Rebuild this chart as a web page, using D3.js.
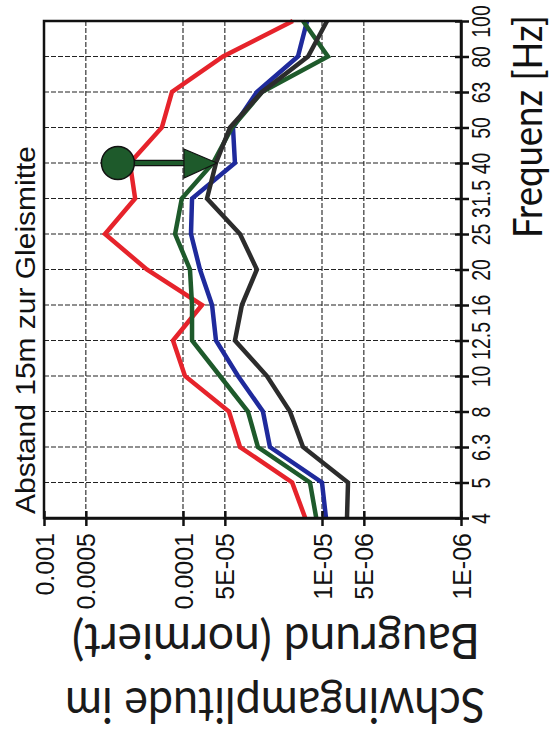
<!DOCTYPE html>
<html>
<head>
<meta charset="utf-8">
<script src="https://cdn.jsdelivr.net/npm/d3@7"></script>
<style>
  body { margin: 0; background: #fff; }
</style>
</head>
<body>
<div id="container"></div>
<script>
// third-octave bands, bottom to top
const freqs = ["4", "5", "6.3", "8", "10", "12.5", "16", "20", "25", "31.5", "40", "50", "63", "80", "100"]
const ampTicks = [1e-3, 5e-4, 1e-4, 5e-5, 1e-5, 5e-6, 1e-6]
const ampTickLabels = ["0.001", "0.0005", "0.0001", "5E-05", "1E-05", "5E-06", "1E-06"]

// normalised amplitudes per band
const redVals = [1.32e-5, 1.64e-5, 3.89e-5, 4.67e-5, 9.68e-5, 1.18e-4, 7.3e-5, 1.82e-4, 3.64e-4, 2.21e-4, 2.41e-4, 1.42e-4, 1.2e-4, 5.15e-5, 1.62e-5]
const greenVals = [1.1e-5, 1.22e-5, 2.89e-5, 3.41e-5, 5.42e-5, 8.61e-5, 8.61e-5, 8.91e-5, 1.14e-4, 1.02e-4, 6.08e-5, 4.44e-5, 2.7e-5, 9.06e-6, 1.37e-5]
const blueVals = [9.36e-6, 1.0e-5, 2.37e-5, 2.66e-5, 4.02e-5, 5.79e-5, 6.18e-5, 7.55e-5, 8.76e-5, 8.61e-5, 4.23e-5, 4.37e-5, 2.94e-5, 1.49e-5, 1.28e-5]
const blackVals = [6.61e-6, 6.5e-6, 1.37e-5, 1.7e-5, 2.49e-5, 4.23e-5, 3.77e-5, 2.94e-5, 3.89e-5, 6.72e-5, 5.79e-5, 4.59e-5, 2.7e-5, 1.26e-5, 9.2e-6]

// arrow marker at 40 Hz
const arrowBand = "40"
const arrowFrom = 2.94e-4
const arrowTo = 5.7e-5

const series = [
  { name: "red", color: "#e6232b", values: redVals },
  { name: "blue", color: "#1f2a9c", values: blueVals },
  { name: "green", color: "#1e5a2b", values: greenVals },
  { name: "black", color: "#2c2c2c", values: blackVals }
]

const W = 556, H = 738
const pLeft = 44, pRight = 461, pTop = 21, pBottom = 518

const svg = d3.select('#container').append('svg')
  .attr('width', W)
  .attr('height', H)
  .style('background', '#fff')

const x = d3.scaleLog().domain([1e-3, 1e-6]).range([pLeft, pRight])
const y = d3.scalePoint().domain(freqs).range([pBottom, pTop])

// grid
svg.append('g').selectAll('line')
  .data(ampTicks.slice(1, -1))
  .enter().append('line')
  .attr('x1', d => x(d)).attr('x2', d => x(d))
  .attr('y1', pTop).attr('y2', pBottom)
  .attr('stroke', '#222').attr('stroke-width', 1.1)
  .attr('stroke-dasharray', '5,2')

svg.append('g').selectAll('line')
  .data(freqs.slice(1, -1))
  .enter().append('line')
  .attr('x1', pLeft).attr('x2', pRight)
  .attr('y1', d => y(d)).attr('y2', d => y(d))
  .attr('stroke', '#222').attr('stroke-width', 1.1)
  .attr('stroke-dasharray', '5,2')

// lines
const line = d3.line()
  .x(d => x(d.v))
  .y(d => y(d.f))

series.forEach(s => {
  svg.append('path')
    .datum(s.values.map((v, i) => ({ f: freqs[i], v: v })))
    .attr('d', line)
    .attr('fill', 'none')
    .attr('stroke', s.color)
    .attr('stroke-width', 4.5)
    .attr('stroke-linejoin', 'miter')
})

// arrow
const ay = y(arrowBand)
const ax0 = x(arrowFrom)
const ax1 = x(arrowTo)
svg.append('line')
  .attr('x1', ax0).attr('x2', ax1 - 30)
  .attr('y1', ay).attr('y2', ay)
  .attr('stroke', '#111').attr('stroke-width', 6.5)
svg.append('line')
  .attr('x1', ax0).attr('x2', ax1 - 30)
  .attr('y1', ay).attr('y2', ay)
  .attr('stroke', '#1e5a2b').attr('stroke-width', 4)
svg.append('path')
  .attr('d', `M${ax1 - 33},${ay - 14} L${ax1},${ay} L${ax1 - 33},${ay + 15} Z`)
  .attr('fill', '#1e5a2b').attr('stroke', '#111').attr('stroke-width', 1.2)
svg.append('circle')
  .attr('cx', ax0).attr('cy', ay).attr('r', 16.5)
  .attr('fill', '#1e5a2b').attr('stroke', '#111').attr('stroke-width', 1.5)

// frame
svg.append('rect')
  .attr('x', pLeft).attr('y', pTop)
  .attr('width', pRight - pLeft).attr('height', pBottom - pTop)
  .attr('fill', 'none').attr('stroke', '#111').attr('stroke-width', 2.5)

// amplitude axis
const xAxis = svg.append('g')
  .attr('transform', `translate(0,${pBottom})`)
  .call(d3.axisBottom(x).tickValues(ampTicks).tickFormat((d, i) => ampTickLabels[i]).tickSizeOuter(0))
xAxis.select('.domain').attr('stroke', '#111').attr('stroke-width', 2.5)
xAxis.selectAll('.tick line').attr('y1', -7).attr('y2', 8).attr('stroke', '#111').attr('stroke-width', 2.5)
xAxis.selectAll('.tick text')
  .attr('x', 0).attr('y', 0).attr('dy', '0.36em')
  .attr('transform', 'translate(0,15) rotate(-90)')
  .attr('text-anchor', 'end')
  .attr('fill', '#111')
  .style('font-family', '"Liberation Sans", Arial, sans-serif')
  .style('font-size', '25px')

// frequency axis
const yAxis = svg.append('g')
  .attr('transform', `translate(${pRight},0)`)
  .call(d3.axisRight(y).tickSizeOuter(0))
yAxis.select('.domain').attr('stroke', '#111').attr('stroke-width', 2.5)
yAxis.selectAll('.tick line').attr('x1', -6).attr('x2', 8).attr('stroke', '#111').attr('stroke-width', 2.5)
yAxis.selectAll('.tick text')
  .attr('x', 0).attr('y', 0).attr('dy', '0.36em')
  .attr('transform', 'translate(20,0) rotate(-90) scale(0.78,1)')
  .attr('text-anchor', 'middle')
  .attr('fill', '#111')
  .style('font-family', '"Liberation Sans", Arial, sans-serif')
  .style('font-size', '25px')

// titles
svg.append('text')
  .attr('transform', 'translate(35,514) rotate(-90)')
  .attr('text-anchor', 'start')
  .attr('textLength', 368)
  .attr('lengthAdjust', 'spacingAndGlyphs')
  .attr('fill', '#111')
  .style('font-family', '"Liberation Sans", Arial, sans-serif')
  .style('font-size', '27px')
  .text('Abstand 15m zur Gleismitte')

svg.append('text')
  .attr('transform', 'translate(542,238) rotate(-90)')
  .attr('text-anchor', 'start')
  .attr('textLength', 223)
  .attr('lengthAdjust', 'spacingAndGlyphs')
  .attr('fill', '#111')
  .style('font-family', 'Lato, "Open Sans", sans-serif')
  .style('font-size', '41px')
  .text('Frequenz [Hz]')

svg.append('text')
  .attr('transform', 'translate(275,688) rotate(180) scale(1,1.07)')
  .attr('text-anchor', 'middle')
  .attr('textLength', 420)
  .attr('lengthAdjust', 'spacingAndGlyphs')
  .attr('fill', '#1a1a1a')
  .style('font-family', 'Lato, "Open Sans", sans-serif')
  .style('font-size', '46px')
  .text('Schwingamplitude im')

svg.append('text')
  .attr('transform', 'translate(276,624) rotate(180) scale(1,1.07)')
  .attr('text-anchor', 'middle')
  .attr('textLength', 408)
  .attr('lengthAdjust', 'spacingAndGlyphs')
  .attr('fill', '#1a1a1a')
  .style('font-family', 'Lato, "Open Sans", sans-serif')
  .style('font-size', '46px')
  .text('Baugrund (normiert)')
</script>
</body>
</html>
